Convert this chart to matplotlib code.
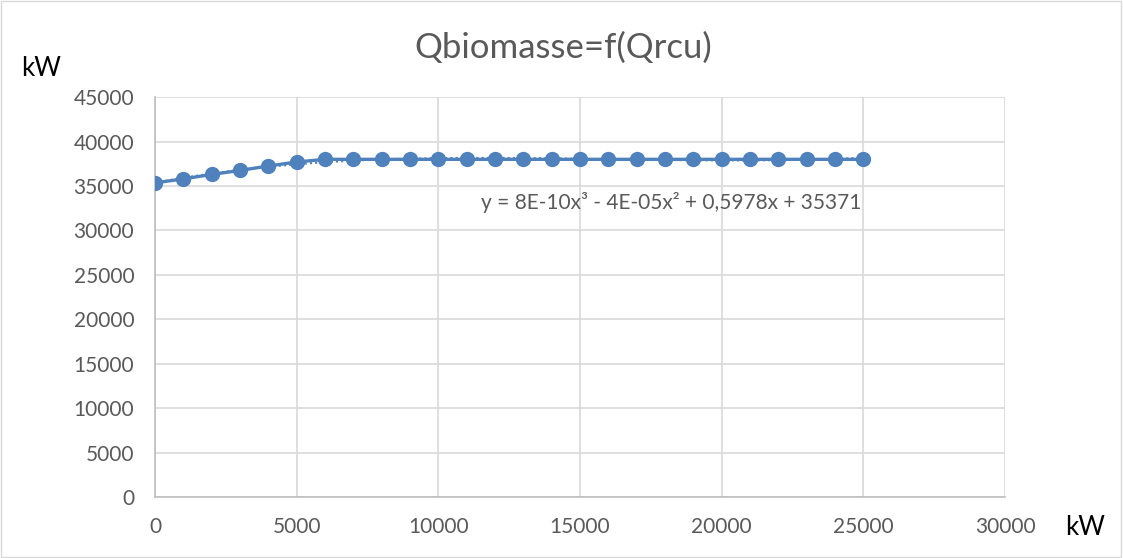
import matplotlib
matplotlib.use("Agg")
import matplotlib.pyplot as plt
import numpy as np
from matplotlib.patches import Rectangle

plt.rcParams["font.family"] = ["Lato", "DejaVu Sans"]

# data
q_rcu = [0, 1000, 2000, 3000, 4000, 5000, 6000, 7000, 8000, 9000, 10000, 11000, 12000,
         13000, 14000, 15000, 16000, 17000, 18000, 19000, 20000, 21000, 22000, 23000,
         24000, 25000]
q_bio = [35350, 35800, 36300, 36750, 37250, 37700, 38000, 38000, 38000, 38000, 38000,
         38000, 38000, 38000, 38000, 38000, 38000, 38000, 38000, 38000, 38000, 38000,
         38000, 38000, 38000, 38000]
x_ticks = [0, 5000, 10000, 15000, 20000, 25000, 30000]
y_ticks = [0, 5000, 10000, 15000, 20000, 25000, 30000, 35000, 40000, 45000]
equation = "y = 8E-10x³ - 4E-05x² + 0,5978x + 35371"

blue = "#4f81bd"
grid_c = "#d9d9d9"
tick_c = "#595959"

fig = plt.figure(figsize=(11.23, 5.58), dpi=100)
fig.patches.append(Rectangle((0.001, 0.002), 0.997, 0.996, transform=fig.transFigure,
                             fill=False, edgecolor="#d9d9d9", linewidth=1))
ax = fig.add_axes([0.138, 0.109, 0.757, 0.717])

ax.plot(q_rcu, q_bio, color=blue, linewidth=2.4, marker="o", markersize=10, zorder=3)

# polynomial trendline (3rd order), dotted like the spreadsheet one
coef = np.polyfit(q_rcu, q_bio, 3)
ax.plot(q_rcu, np.polyval(coef, q_rcu), color=blue, linewidth=1.5, linestyle=(0, (1, 1.5)), zorder=4)

ax.set_xlim(0, 30000)
ax.set_ylim(0, 45000)
ax.set_xticks(x_ticks)
ax.set_yticks(y_ticks)
ax.grid(True, color=grid_c, linewidth=1.2)
ax.set_axisbelow(True)
for s in ["top", "right"]:
    ax.spines[s].set_visible(False)
for s in ["left", "bottom"]:
    ax.spines[s].set_color("#bfbfbf")
    ax.spines[s].set_linewidth(1.2)
ax.tick_params(length=0, labelsize=15, colors=tick_c)
ax.tick_params(axis="y", pad=15)
ax.tick_params(axis="x", pad=14)

ax.text(18200, 33100, equation, ha="center", va="center", fontsize=15, color=tick_c)

fig.text(0.502, 0.915, "Qbiomasse=f(Qrcu)", ha="center", va="center", fontsize=25, color=tick_c)
fig.text(0.037, 0.878, "kW", ha="center", va="center", fontsize=18.5, color="black")
fig.text(0.966, 0.055, "kW", ha="center", va="center", fontsize=18.5, color="black")

fig.savefig("out.png", dpi=100)
